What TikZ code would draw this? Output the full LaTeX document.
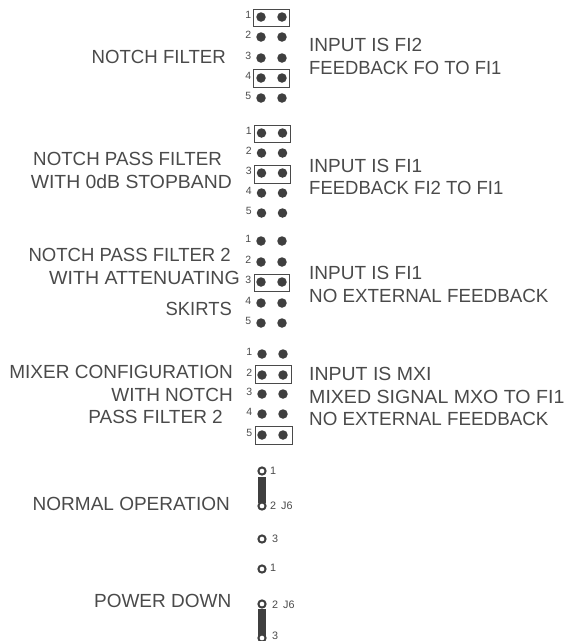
\documentclass[tikz,border=0pt]{standalone}
\usepackage{fontspec}
\setmainfont{Liberation Sans}
\definecolor{ink}{HTML}{3F3F3F}
\definecolor{txt}{HTML}{4A4A4A}
\newcommand{\sx}[2]{\scalebox{#1}[1]{#2}}
\tikzset{
 x=1pt,y=-1pt,
 pin/.style={circle,fill=ink,inner sep=0pt,minimum size=9.5pt},
 jump/.style={draw=txt,line width=0.9pt,fill=none},
 num/.style={text=txt,font=\fontsize{10.5}{10.5}\selectfont,inner sep=0pt,anchor=east},
 lab/.style={text=txt,font=\fontsize{19}{22.8}\selectfont,inner sep=0pt,align=right,anchor=east},
 rab/.style={text=txt,font=\fontsize{19}{22.6}\selectfont,inner sep=0pt,align=left,anchor=west},
 ring/.style={circle,draw=ink,line width=2pt,inner sep=0pt,minimum size=7.2pt,fill=white},
 bar/.style={fill=ink,draw=none},
 jn/.style={text=txt,font=\fontsize{10.8}{10.8}\selectfont,inner sep=0pt,anchor=west},
}
\begin{document}
\begin{tikzpicture}
\useasboundingbox (0,0) rectangle (565,641);
% jumper boxes
\draw[jump] (253.5,9) rectangle (289.5,26);
\draw[jump] (253.5,69) rectangle (289.5,87);
\draw[jump] (254.5,125) rectangle (290.5,142);
\draw[jump] (254.5,165) rectangle (290.5,183);
\draw[jump] (254,274) rectangle (289.5,291);
\draw[jump] (255,365) rectangle (291,383);
\draw[jump] (255,426) rectangle (292,444);
% pins
\foreach \a/\b/\c/\d/\e/\p/\xa/\xb in {17/37/58/78/98/a/261/282,133/153/173/193/213/b/261.5/282.5,241/262/282/303/323/c/261/282,354/375/394/414/435/d/262/283}{
 \foreach \r/\y in {1/\a,2/\b,3/\c,4/\d,5/\e}{
  \node[pin] (\p\r l) at (\xa,\y) {};
  \node[pin] (\p\r r) at (\xb,\y) {};
  \node[num] (\p\r n) at (\xa-9.5,\y-2) {\r};
 }
}
% labels
\node[lab] (t1) at (226,56.5) {\sx{.98}{NOTCH FILTER}};
\node[rab] (r1) at (309,56.5) {INPUT IS FI2\\\sx{.97}{FEEDBACK FO TO FI1}};
\node[lab] (t2) at (232,170.5) {\sx{.985}{NOTCH PASS FILTER}\hspace*{10pt}\\\sx{1.02}{WITH 0dB STOPBAND}};
\node[rab] (r2) at (309,177) {INPUT IS FI1\\\sx{.975}{FEEDBACK FI2 TO FI1}};
\node[lab] (t3) at (240,282) {\sx{.976}{NOTCH PASS FILTER 2}\hspace*{9pt}\\\sx{1.03}{WITH ATTENUATING}\\[8.5pt]\sx{.97}{SKIRTS}\hspace*{8pt}};
\node[rab] (r3) at (309,284.5) {INPUT IS FI1\\\sx{.99}{NO EXTERNAL FEEDBACK}};
\node[lab] (t4) at (233,394.5) {MIXER CONFIGURATION\\WITH NOTCH\\PASS FILTER 2\hspace*{10pt}};
\node[rab] (r4) at (309,396.5) {\sx{1.025}{INPUT IS MXI}\\\sx{1.03}{MIXED SIGNAL MXO TO FI1}\\\sx{.99}{NO EXTERNAL FEEDBACK}};
\node[lab] (t5) at (230,504) {NORMAL OPERATION};
\node[lab] (t6) at (231.5,601) {POWER DOWN};
% J6
\fill[bar] (258,477) rectangle (266,503);
\fill[bar] (258,609) rectangle (266,636);
\node[ring] (j1) at (262,471) {};
\node[ring] (j2) at (262,506) {};
\node[ring] (j3) at (262,539) {};
\node[ring] (k1) at (262,569) {};
\node[ring] (k2) at (262,604) {};
\node[ring] (k3) at (262,638) {};
\node[jn] (j1n) at (270,471) {1};
\node[jn] (j2n) at (270,506) {2\hspace{5pt}J6};
\node[jn] (j3n) at (272,539) {3};
\node[jn] (k1n) at (270,568) {1};
\node[jn] (k2n) at (272,605) {2\hspace{5pt}J6};
\node[jn] (k3n) at (272,635.5) {3};
\end{tikzpicture}
\end{document}
